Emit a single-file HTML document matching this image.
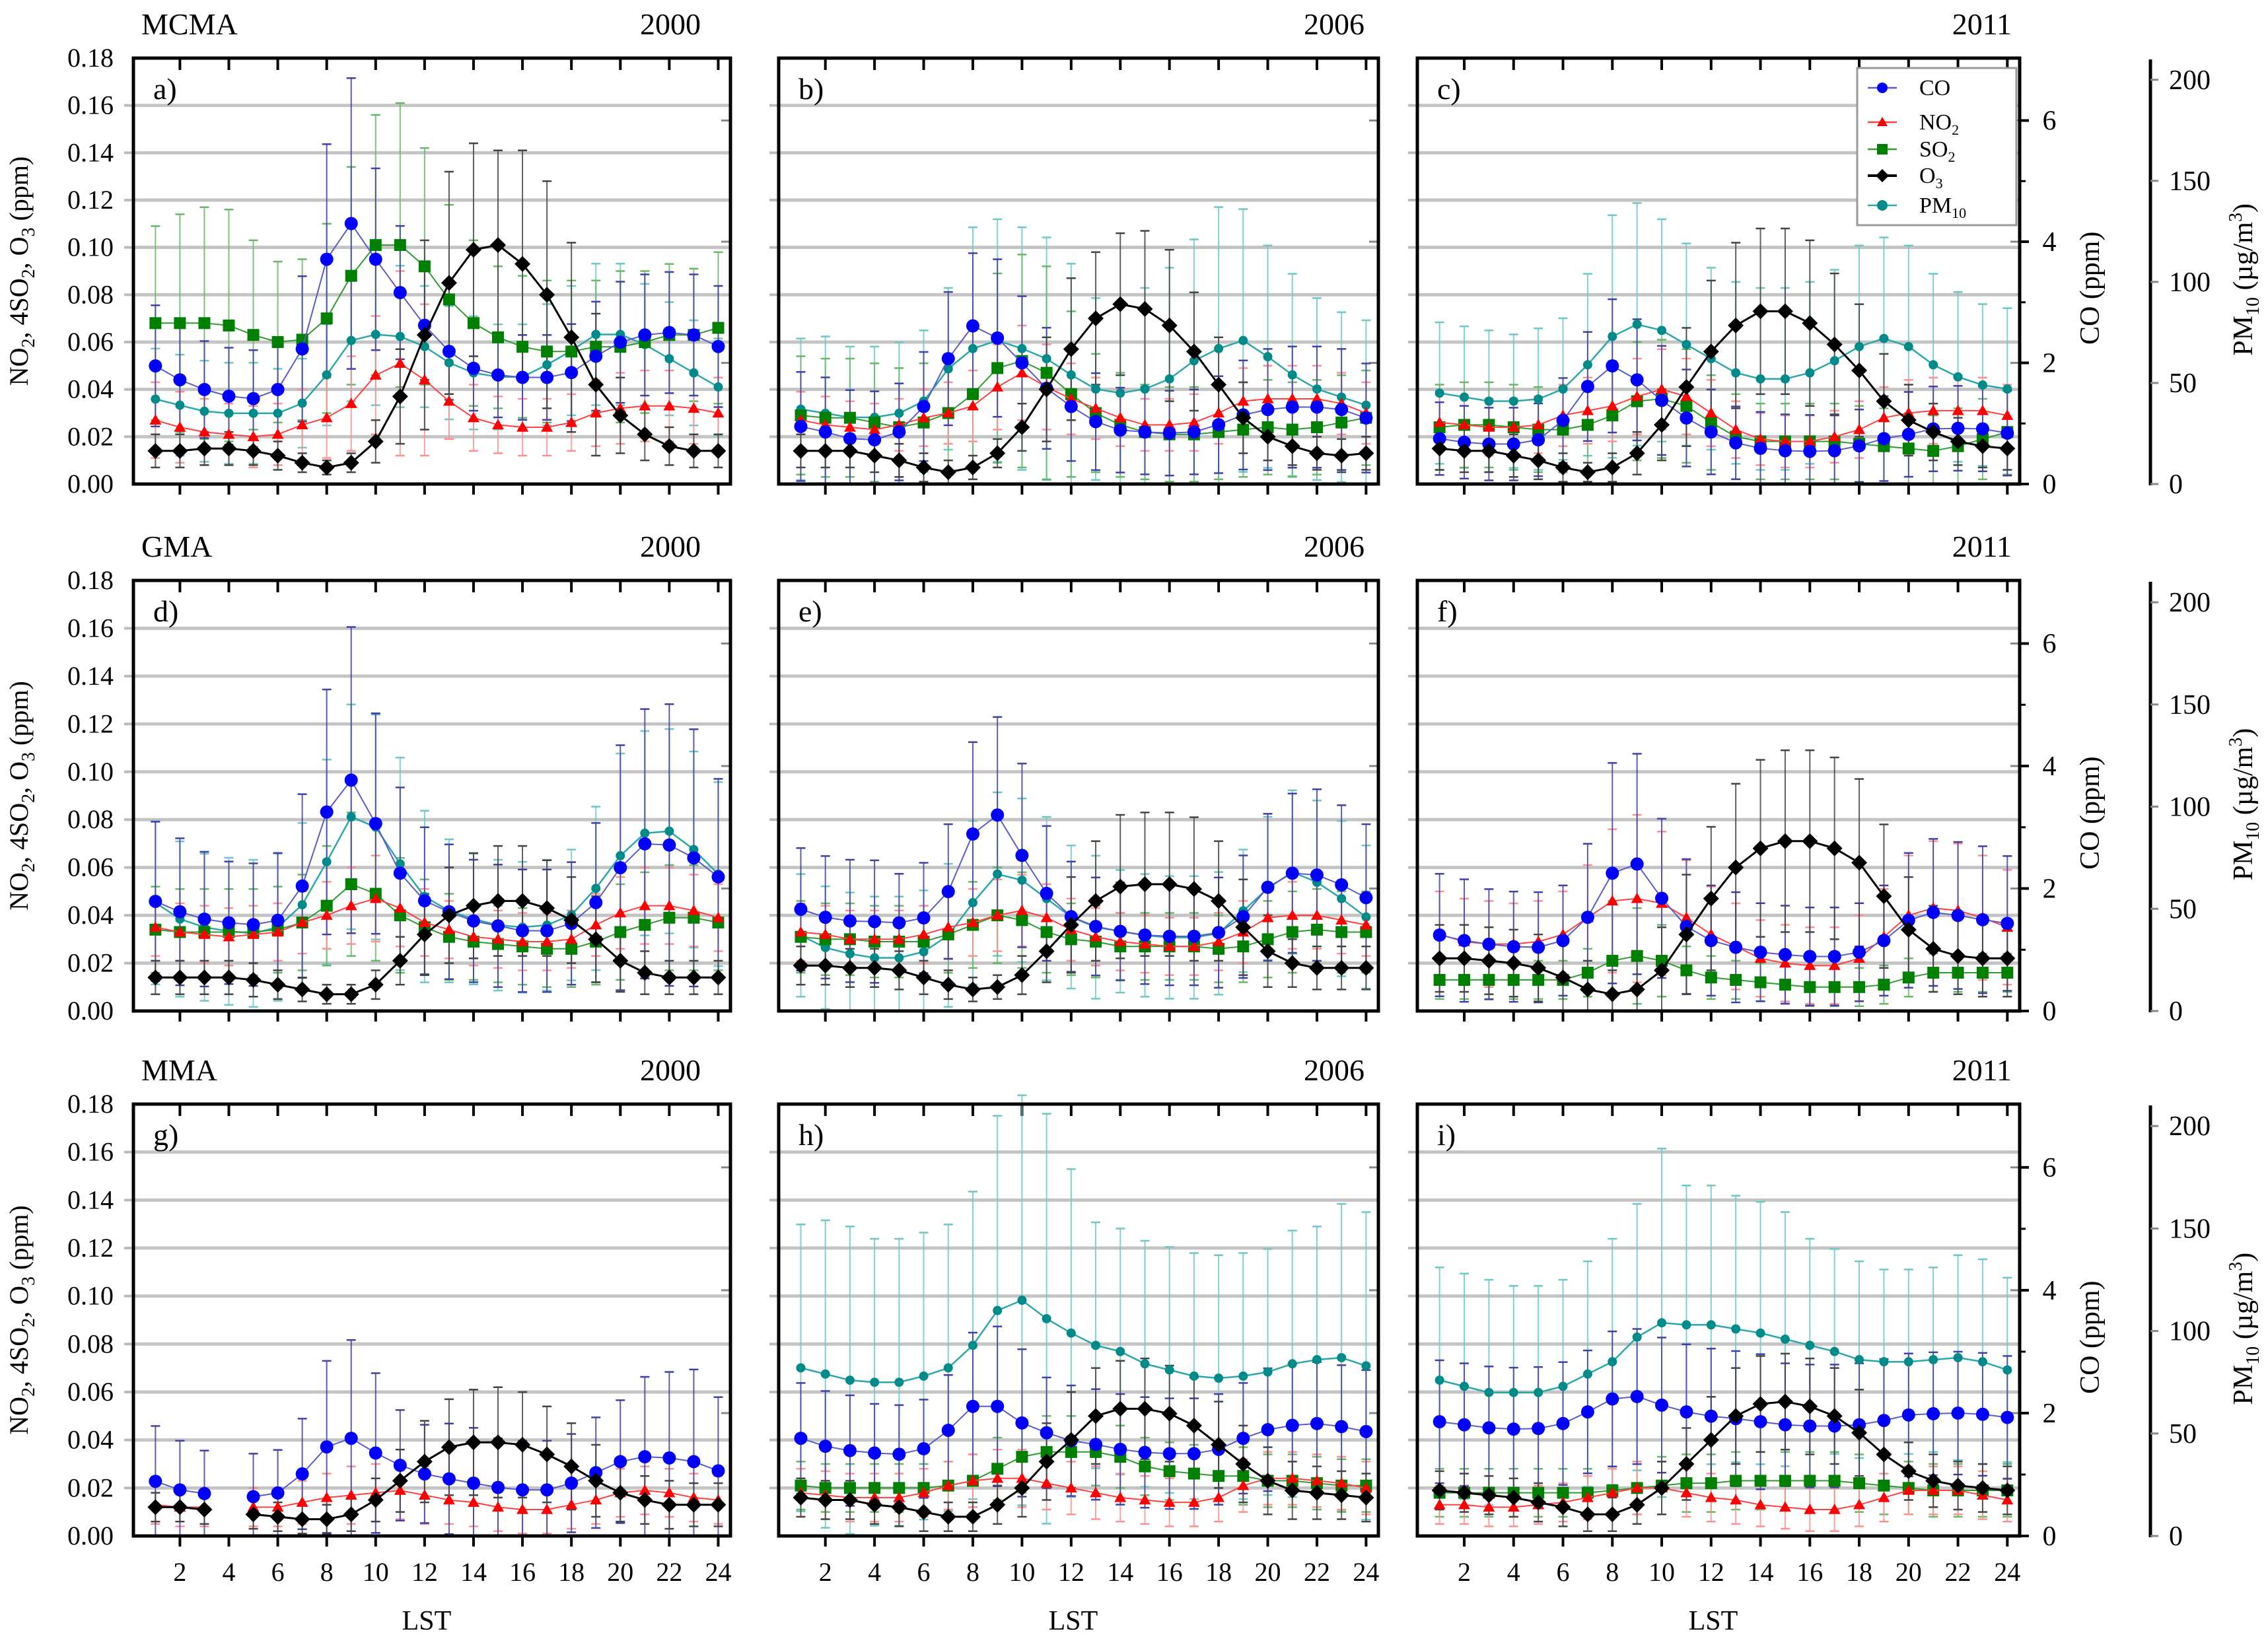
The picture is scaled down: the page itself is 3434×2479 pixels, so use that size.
<!DOCTYPE html>
<html><head><meta charset="utf-8"><title>Diurnal pollutant profiles</title>
<style>
html,body{margin:0;padding:0;background:#fff;}
svg{display:block;}
</style></head>
<body>
<svg id="chart" xmlns="http://www.w3.org/2000/svg" width="3434" height="2479" viewBox="0 0 3434 2479" font-family="'Liberation Serif', 'DejaVu Serif', serif"></svg>
<script>
// ---------- data (hours 1..24) ----------
const hours=[1,2,3,4,5,6,7,8,9,10,11,12,13,14,15,16,17,18,19,20,21,22,23,24];
const xTickLabels=[2,4,6,8,10,12,14,16,18,20,22,24];
const leftTickLabels=["0.00","0.02","0.04","0.06","0.08","0.10","0.12","0.14","0.16","0.18"];
const leftTickValues=[0,0.02,0.04,0.06,0.08,0.10,0.12,0.14,0.16,0.18];
const coTickValues=[0,2,4,6];
const pmTickValues=[0,50,100,150,200];
const regionNames=["MCMA","GMA","MMA"];
const yearNames=["2000","2006","2011"];
const panelLetters=["a)","b)","c)","d)","e)","f)","g)","h)","i)"];

// panel a (MCMA 2000)
const coA=[1.95,1.72,1.56,1.45,1.41,1.56,2.23,3.71,4.30,3.71,3.16,2.62,2.19,1.91,1.80,1.76,1.76,1.84,2.11,2.34,2.46,2.50,2.46,2.27];
const no2A=[.027,.024,.022,.021,.020,.021,.025,.028,.034,.046,.051,.044,.035,.028,.025,.024,.024,.026,.030,.032,.033,.033,.032,.030];
const so2A=[.068,.068,.068,.067,.063,.060,.061,.070,.088,.101,.101,.092,.078,.068,.062,.058,.056,.056,.058,.058,.060,.063,.063,.066];
const o3A=[.014,.014,.015,.015,.014,.012,.009,.007,.009,.018,.037,.063,.085,.099,.101,.093,.080,.062,.042,.029,.021,.016,.014,.014];
const pmA=[42,39,36,35,35,35,40,54,71,74,73,68,60,55,53,53,59,66,74,74,69,62,55,48];
const coErrA=[1.0,0.9,0.8,0.8,0.8,0.8,1.2,1.9,2.4,1.5,1.1,0.9,0.8,0.7,0.7,0.7,0.7,0.8,0.9,1.0,1.0,1.0,1.0,1.0];
const no2ErrA=[.016,.015,.014,.013,.013,.013,.015,.017,.020,.025,.039,.032,.016,.014,.012,.012,.012,.012,.014,.015,.015,.015,.015,.015];
const so2ErrA=[.041,.046,.049,.049,.040,.034,.034,.040,.046,.055,.060,.050,.040,.035,.030,.030,.030,.030,.028,.032,.030,.030,.028,.032];
const o3ErrA=[.007,.007,.007,.007,.006,.006,.004,.003,.004,.009,.020,.040,.047,.045,.040,.048,.048,.040,.030,.016,.011,.008,.007,.007];
const pmErrA=[25,25,25,25,25,22,22,25,30,35,35,30,28,28,26,26,30,32,35,35,30,28,26,24];

// panel b (MCMA 2006)
const coB=[0.95,0.86,0.75,0.73,0.86,1.28,2.07,2.61,2.41,2.00,1.58,1.28,1.03,0.89,0.86,0.84,0.86,0.98,1.14,1.23,1.27,1.27,1.23,1.09];
const no2B=[.027,.025,.024,.023,.025,.028,.030,.033,.041,.047,.041,.036,.032,.028,.025,.025,.026,.030,.035,.036,.036,.036,.034,.030];
const so2B=[.029,.028,.028,.026,.024,.026,.030,.038,.049,.052,.047,.038,.030,.025,.022,.021,.021,.022,.023,.024,.023,.024,.026,.028];
const o3B=[.014,.014,.014,.012,.010,.007,.005,.007,.013,.024,.040,.057,.070,.076,.074,.067,.056,.042,.028,.020,.016,.013,.012,.013];
const pmB=[37,35,33,33,35,41,57,67,71,67,62,54,47,45,47,52,61,67,71,63,54,47,43,39];
const coErrB=[0.9,0.9,0.8,0.8,0.8,0.9,1.1,1.2,1.3,1.1,1.0,0.9,0.8,0.7,0.7,0.7,0.7,0.8,0.9,1.0,1.0,1.0,1.0,0.9];
const no2ErrB=[.012,.012,.011,.011,.011,.012,.013,.015,.018,.020,.018,.015,.013,.012,.011,.011,.012,.013,.014,.014,.014,.014,.013,.013];
const so2ErrB=[.025,.025,.025,.025,.025,.025,.025,.030,.040,.045,.045,.035,.025,.022,.020,.020,.020,.020,.020,.020,.020,.020,.020,.020];
const o3ErrB=[.007,.007,.007,.007,.007,.006,.005,.005,.006,.010,.022,.030,.028,.030,.033,.032,.025,.020,.015,.010,.008,.007,.007,.007];
const pmErrB=[35,38,35,35,35,35,40,60,60,60,60,55,45,45,50,55,60,70,65,55,50,45,42,42];

// panel c (MCMA 2011)
const coC=[0.75,0.69,0.66,0.66,0.73,1.05,1.61,1.95,1.72,1.38,1.09,0.86,0.68,0.59,0.55,0.54,0.55,0.63,0.75,0.82,0.91,0.92,0.91,0.84];
const no2C=[.026,.025,.024,.024,.025,.029,.031,.033,.037,.040,.037,.030,.023,.019,.018,.018,.020,.023,.028,.030,.031,.031,.031,.029];
const so2C=[.024,.025,.025,.024,.023,.023,.025,.029,.035,.036,.033,.026,.020,.018,.018,.018,.018,.017,.016,.015,.014,.016,.019,.022];
const o3C=[.015,.014,.014,.012,.010,.007,.005,.007,.013,.025,.041,.056,.067,.073,.073,.068,.059,.048,.035,.027,.022,.018,.016,.015];
const pmC=[45,43,41,41,42,47,59,73,79,76,69,62,55,52,52,55,61,68,72,68,59,53,49,47];
const coErrC=[0.6,0.6,0.6,0.6,0.6,0.7,0.9,1.1,1.0,0.9,0.8,0.7,0.6,0.6,0.6,0.6,0.6,0.6,0.7,0.7,0.7,0.7,0.7,0.7];
const no2ErrC=[.012,.012,.012,.012,.012,.013,.014,.015,.016,.017,.016,.014,.012,.011,.011,.011,.011,.012,.013,.014,.014,.014,.014,.013];
const so2ErrC=[.018,.018,.018,.018,.018,.018,.020,.023,.025,.025,.024,.020,.018,.016,.016,.016,.016,.016,.016,.015,.015,.016,.017,.018];
const o3ErrC=[.009,.009,.009,.009,.008,.006,.004,.006,.009,.015,.025,.030,.035,.035,.035,.035,.030,.028,.020,.015,.012,.010,.009,.009];
const pmErrC=[35,35,35,33,35,35,45,60,60,55,50,45,45,45,45,45,45,50,50,50,45,42,40,40];

// panel d (GMA 2000)
const coD=[1.79,1.62,1.50,1.44,1.41,1.48,2.04,3.25,3.77,3.06,2.25,1.80,1.62,1.47,1.39,1.31,1.31,1.43,1.77,2.34,2.73,2.71,2.50,2.19];
const no2D=[.035,.033,.032,.031,.032,.033,.037,.040,.044,.047,.043,.037,.034,.031,.030,.029,.029,.030,.036,.041,.044,.044,.042,.039];
const so2D=[.034,.033,.033,.033,.033,.034,.037,.044,.053,.049,.040,.035,.031,.029,.028,.027,.026,.026,.029,.033,.036,.039,.039,.037];
const o3D=[.014,.014,.014,.014,.013,.011,.009,.007,.007,.011,.021,.032,.040,.044,.046,.046,.043,.038,.030,.021,.016,.014,.014,.014];
const pmD=[53,45,41,39,38,41,52,73,95,90,72,56,49,45,42,41,42,47,60,76,87,88,79,67];
const coErrD=[1.3,1.2,1.1,1.0,1.0,1.1,1.5,2.0,2.5,1.8,1.4,1.2,1.1,1.0,1.0,1.0,1.0,1.0,1.3,2.0,2.2,2.3,2.1,1.6];
const no2ErrD=[.012,.012,.012,.012,.012,.012,.013,.014,.016,.018,.016,.014,.012,.012,.012,.012,.012,.012,.013,.015,.016,.016,.015,.014];
const so2ErrD=[.018,.018,.018,.018,.018,.018,.020,.025,.030,.028,.024,.020,.018,.016,.016,.016,.016,.016,.018,.020,.022,.022,.022,.020];
const o3ErrD=[.007,.007,.007,.007,.007,.006,.005,.004,.004,.006,.010,.017,.020,.022,.023,.023,.020,.018,.018,.013,.009,.007,.007,.007];
const pmErrD=[40,38,36,36,36,36,40,50,55,55,52,42,35,32,32,32,32,32,40,50,50,50,48,45];

// panel e (GMA 2006)
const coE=[1.66,1.53,1.47,1.46,1.44,1.52,1.95,2.89,3.20,2.54,1.92,1.54,1.38,1.30,1.24,1.22,1.22,1.28,1.54,2.02,2.25,2.22,2.06,1.85];
const no2E=[.033,.032,.030,.030,.030,.032,.035,.037,.040,.042,.039,.034,.031,.029,.028,.027,.027,.029,.033,.039,.040,.040,.038,.036];
const so2E=[.031,.030,.030,.029,.029,.029,.032,.036,.040,.038,.033,.030,.029,.027,.027,.027,.027,.026,.027,.030,.033,.034,.033,.033];
const o3E=[.019,.019,.018,.018,.017,.014,.011,.009,.010,.015,.025,.036,.046,.052,.053,.053,.051,.046,.035,.025,.020,.018,.018,.018];
const pmE=[37,31,28,26,26,29,37,53,67,64,55,46,41,39,37,36,36,38,49,60,68,63,55,46];
const coErrE=[1.0,1.0,1.0,1.0,0.8,0.9,1.1,1.5,1.6,1.5,1.1,0.9,0.8,0.8,0.8,0.8,0.8,0.9,1.0,1.2,1.3,1.4,1.3,1.2];
const no2ErrE=[.012,.012,.012,.012,.012,.012,.013,.014,.015,.015,.014,.013,.012,.012,.012,.012,.012,.012,.013,.014,.014,.014,.014,.013];
const so2ErrE=[.015,.015,.015,.015,.015,.015,.016,.018,.020,.020,.017,.015,.015,.014,.014,.014,.014,.014,.015,.016,.017,.017,.017,.017];
const o3ErrE=[.008,.008,.008,.008,.008,.007,.006,.005,.005,.008,.013,.020,.025,.030,.030,.030,.030,.025,.020,.015,.010,.009,.009,.009];
const pmErrE=[30,30,30,30,30,30,35,40,40,40,40,35,35,30,30,30,30,30,30,35,40,40,38,35];

// panel f (GMA 2011) - no PM10
const coF=[1.24,1.15,1.09,1.05,1.04,1.15,1.53,2.25,2.40,1.84,1.38,1.15,1.04,0.96,0.92,0.89,0.89,0.96,1.15,1.48,1.61,1.56,1.49,1.43];
const no2F=[.032,.029,.028,.028,.029,.032,.039,.046,.047,.045,.039,.032,.027,.022,.020,.019,.019,.022,.031,.040,.043,.042,.039,.035];
const so2F=[.013,.013,.013,.013,.013,.013,.016,.021,.023,.021,.017,.014,.013,.012,.011,.010,.010,.010,.011,.014,.016,.016,.016,.016];
const o3F=[.022,.022,.021,.020,.018,.014,.009,.007,.009,.017,.032,.047,.060,.068,.071,.071,.068,.062,.048,.034,.026,.023,.022,.022];
const coErrF=[1.0,1.0,0.9,0.9,0.9,0.9,1.2,1.8,1.8,1.3,1.1,0.9,0.9,0.8,0.8,0.8,0.8,0.8,0.9,1.1,1.2,1.2,1.2,1.1];
const no2ErrF=[.018,.018,.018,.017,.017,.018,.022,.030,.035,.030,.024,.020,.018,.016,.016,.016,.016,.018,.020,.025,.028,.028,.026,.024];
const so2ErrF=[.008,.008,.008,.008,.008,.008,.010,.025,.020,.015,.010,.009,.008,.008,.008,.008,.008,.008,.008,.008,.008,.008,.008,.008];
const o3ErrF=[.014,.014,.014,.014,.014,.014,.012,.010,.012,.018,.025,.030,.035,.037,.038,.038,.038,.035,.030,.022,.018,.016,.016,.016];

// panel g (MMA 2000) - no SO2, no PM10, hour 4 missing
const coG=[0.89,0.75,0.69,null,0.64,0.70,1.01,1.45,1.59,1.35,1.15,1.01,0.93,0.86,0.79,0.75,0.75,0.86,1.03,1.21,1.29,1.27,1.21,1.06];
const no2G=[.013,.012,.012,null,.012,.012,.014,.016,.017,.018,.019,.017,.015,.014,.012,.011,.011,.013,.015,.018,.019,.018,.016,.015];
const o3G=[.012,.012,.011,null,.009,.008,.007,.007,.009,.015,.023,.031,.037,.039,.039,.038,.034,.029,.023,.018,.015,.013,.013,.013];
const coErrG=[0.9,0.8,0.7,null,0.7,0.7,0.9,1.4,1.6,1.3,0.9,0.8,0.9,0.9,0.8,0.8,0.8,0.8,0.9,1.0,1.3,1.4,1.5,1.2];
const no2ErrG=[.008,.008,.008,null,.008,.008,.009,.010,.012,.012,.012,.012,.010,.010,.010,.010,.010,.010,.010,.010,.010,.010,.010,.010];
const o3ErrG=[.006,.006,.006,null,.006,.006,.006,.006,.007,.009,.013,.017,.020,.022,.023,.022,.020,.018,.015,.012,.010,.010,.009,.009];

// panel h (MMA 2006)
const coH=[1.59,1.46,1.39,1.35,1.33,1.42,1.72,2.11,2.11,1.84,1.68,1.55,1.49,1.41,1.36,1.34,1.34,1.41,1.59,1.73,1.80,1.83,1.78,1.70];
const no2H=[.018,.017,.016,.016,.016,.018,.021,.023,.024,.024,.022,.020,.018,.016,.015,.014,.014,.016,.021,.024,.024,.023,.022,.020];
const so2H=[.021,.020,.020,.020,.020,.020,.021,.023,.028,.033,.035,.035,.035,.033,.029,.027,.026,.025,.025,.023,.023,.022,.021,.021];
const o3H=[.016,.015,.015,.013,.012,.010,.008,.008,.013,.020,.031,.040,.050,.053,.053,.051,.046,.038,.030,.023,.019,.018,.017,.016];
const pmH=[82,79,76,75,75,78,82,93,110,115,106,99,93,90,84,81,78,77,78,80,84,86,87,83];
const coErrH=[0.9,0.9,0.9,0.8,0.8,0.8,0.9,1.2,1.3,1.2,0.9,0.9,0.9,0.9,0.9,0.9,0.9,0.9,0.9,1.0,1.0,1.0,1.0,1.0];
const no2ErrH=[.010,.010,.010,.010,.010,.010,.010,.011,.012,.012,.011,.011,.011,.010,.010,.010,.010,.010,.011,.011,.011,.011,.011,.011];
const so2ErrH=[.010,.010,.010,.010,.010,.010,.010,.011,.013,.015,.015,.015,.014,.013,.012,.012,.012,.012,.012,.011,.011,.011,.011,.011];
const o3ErrH=[.008,.008,.008,.008,.008,.008,.006,.006,.008,.012,.016,.020,.020,.020,.021,.020,.020,.018,.016,.014,.012,.011,.010,.010];
const pmErrH=[70,75,75,70,70,70,70,75,95,100,100,80,60,60,60,60,60,60,60,60,65,65,75,75];

// panel i (MMA 2011)
const coI=[1.86,1.81,1.76,1.74,1.75,1.83,2.02,2.23,2.27,2.13,2.02,1.95,1.91,1.86,1.81,1.79,1.79,1.81,1.88,1.97,1.99,2.00,1.98,1.93];
const no2I=[.013,.013,.012,.012,.013,.014,.016,.018,.020,.020,.018,.016,.015,.013,.012,.011,.011,.013,.016,.019,.019,.019,.017,.015];
const so2I=[.018,.018,.018,.018,.018,.018,.018,.019,.020,.021,.022,.022,.023,.023,.023,.023,.023,.022,.021,.020,.019,.019,.019,.019];
const o3I=[.019,.018,.017,.016,.014,.012,.009,.009,.013,.020,.030,.040,.050,.055,.056,.054,.050,.043,.034,.027,.023,.021,.020,.019];
const pmI=[76,73,70,70,70,73,79,85,97,104,103,103,101,99,96,93,90,86,85,85,86,87,85,81];
const coErrI=[1.0,1.0,1.0,1.0,1.0,1.0,1.0,1.1,1.1,1.1,1.1,1.1,1.1,1.1,1.0,1.0,1.0,1.0,1.0,1.0,1.0,1.0,1.0,1.0];
const no2ErrI=[.008,.008,.008,.008,.008,.008,.009,.010,.011,.011,.010,.010,.010,.009,.009,.009,.009,.009,.010,.010,.010,.010,.010,.009];
const so2ErrI=[.010,.010,.010,.010,.010,.010,.010,.010,.011,.012,.012,.012,.012,.012,.012,.012,.012,.012,.012,.011,.011,.011,.011,.011];
const o3ErrI=[.008,.008,.008,.008,.008,.008,.007,.007,.008,.011,.015,.018,.020,.020,.020,.020,.020,.018,.015,.012,.011,.010,.010,.010];
const pmErrI=[55,55,55,52,52,52,55,60,65,85,68,68,65,64,62,52,50,48,45,45,45,50,50,45];

// ---------- layout ----------
const NS="http://www.w3.org/2000/svg";
const svg=document.getElementById("chart");
const colX=[[202,1106],[1179,2087],[2146,3058]];
const rowY=[[88,733],[879,1531],[1672,2326]];
const LMAX=0.18, COMAX=7.03, PMMAX=210.7, XMIN=0.1, XMAX=24.5;

function el(tag,attrs,parent){const e=document.createElementNS(NS,tag);for(const k in attrs)e.setAttribute(k,attrs[k]);(parent||svg).appendChild(e);return e;}

const panels=[
 {co:coA,no2:no2A,so2:so2A,o3:o3A,pm:pmA,coE:coErrA,no2E:no2ErrA,so2E:so2ErrA,o3E:o3ErrA,pmE:pmErrA},
 {co:coB,no2:no2B,so2:so2B,o3:o3B,pm:pmB,coE:coErrB,no2E:no2ErrB,so2E:so2ErrB,o3E:o3ErrB,pmE:pmErrB},
 {co:coC,no2:no2C,so2:so2C,o3:o3C,pm:pmC,coE:coErrC,no2E:no2ErrC,so2E:so2ErrC,o3E:o3ErrC,pmE:pmErrC},
 {co:coD,no2:no2D,so2:so2D,o3:o3D,pm:pmD,coE:coErrD,no2E:no2ErrD,so2E:so2ErrD,o3E:o3ErrD,pmE:pmErrD},
 {co:coE,no2:no2E,so2:so2E,o3:o3E,pm:pmE,coE:coErrE,no2E:no2ErrE,so2E:so2ErrE,o3E:o3ErrE,pmE:pmErrE},
 {co:coF,no2:no2F,so2:so2F,o3:o3F,pm:null,coE:coErrF,no2E:no2ErrF,so2E:so2ErrF,o3E:o3ErrF,pmE:null},
 {co:coG,no2:no2G,so2:null,o3:o3G,pm:null,coE:coErrG,no2E:no2ErrG,so2E:null,o3E:o3ErrG,pmE:null},
 {co:coH,no2:no2H,so2:so2H,o3:o3H,pm:pmH,coE:coErrH,no2E:no2ErrH,so2E:so2ErrH,o3E:o3ErrH,pmE:pmErrH},
 {co:coI,no2:no2I,so2:so2I,o3:o3I,pm:pmI,coE:coErrI,no2E:no2ErrI,so2E:so2ErrI,o3E:o3ErrI,pmE:pmErrI}
];

const seriesStyle={
 pm:{line:"#2aa8a8",err:"#6cc8c8",fill:"#008b8b",shape:"circle",size:7,lw:2.5,name:"pm10"},
 so2:{line:"#2f9a2f",err:"#66b866",fill:"#008000",shape:"square",size:9,lw:2,name:"so2"},
 no2:{line:"#ff4040",err:"#ff9090",fill:"#ff0000",shape:"triangle",size:9,lw:2,name:"no2"},
 co:{line:"#5a5ac8",err:"#4040a8",fill:"#0000ff",shape:"circle",size:10,lw:2,name:"co"},
 o3:{line:"#000000",err:"#444444",fill:"#000000",shape:"diamond",size:12,lw:3,name:"o3"}
};

function marker(g,shape,x,y,s,fill,name){
  let m;
  if(shape==="circle") m=el("circle",{cx:x,cy:y,r:s,fill:fill},g);
  else if(shape==="square") m=el("rect",{x:x-s,y:y-s,width:2*s,height:2*s,fill:fill},g);
  else if(shape==="triangle") m=el("polygon",{points:`${x},${y-s} ${x-s},${y+s*0.75} ${x+s},${y+s*0.75}`,fill:fill},g);
  else m=el("polygon",{points:`${x},${y-s} ${x+s},${y} ${x},${y+s} ${x-s},${y}`,fill:fill},g);
  
  
  return m;
}

panels.forEach((p,idx)=>{
  const r=Math.floor(idx/3), c=idx%3;
  const x0=colX[c][0], x1=colX[c][1], y0=rowY[r][0], y1=rowY[r][1];
  const W=x1-x0, H=y1-y0;
  const xs=h=>x0+(h-XMIN)/(XMAX-XMIN)*W;
  const yL=v=>y1-v/LMAX*H;
  const yCO=v=>y1-v/COMAX*H;
  const yPM=v=>y1-v/PMMAX*H;
  const g=el("g",{});
  
  
  leftTickValues.forEach(v=>{
    if(v===0||v===LMAX) return;
    const gl=el("line",{x1:x0,x2:x1,y1:yL(v),y2:yL(v),stroke:"#c4c4c4","stroke-width":5},g);
    
    
    el("line",{x1:x0-14,x2:x0,y1:yL(v),y2:yL(v),stroke:"#bbbbbb","stroke-width":4},g);
  });
  coTickValues.forEach(v=>{ if(v>0) el("line",{x1:x1-14,x2:x1,y1:yCO(v),y2:yCO(v),stroke:"#888","stroke-width":3},g);});
  xTickLabels.forEach(h=>{
    el("line",{x1:xs(h),x2:xs(h),y1:y0,y2:y0+18,stroke:"#000","stroke-width":4},g);
    el("line",{x1:xs(h),x2:xs(h),y1:y1,y2:y1+16,stroke:"#000","stroke-width":4},g);
  });
  const ser=[
    {k:"pm",v:p.pm,e:p.pmE,ys:yPM},
    {k:"so2",v:p.so2,e:p.so2E,ys:yL},
    {k:"no2",v:p.no2,e:p.no2E,ys:yL},
    {k:"co",v:p.co,e:p.coE,ys:yCO},
    {k:"o3",v:p.o3,e:p.o3E,ys:yL}
  ].filter(s=>s.v);
  ser.forEach(s=>{
    const st=seriesStyle[s.k];
    const eg=el("g",{},g);
    
    
    hours.forEach((h,i)=>{
      const v=s.v[i], e=s.e[i];
      if(v==null||e==null) return;
      const x=xs(h), ya=s.ys(v+e), yb=s.ys(Math.max(v-e,0));
      el("line",{x1:x,x2:x,y1:ya,y2:yb,stroke:st.err,"stroke-width":2,opacity:0.85},eg);
      el("line",{x1:x-7,x2:x+7,y1:ya,y2:ya,stroke:st.err,"stroke-width":2.5},eg);
      el("line",{x1:x-7,x2:x+7,y1:yb,y2:yb,stroke:st.err,"stroke-width":2.5},eg);
    });
  });
  ser.forEach(s=>{
    const st=seriesStyle[s.k];
    let d="", pen=false;
    hours.forEach((h,i)=>{
      const v=s.v[i];
      if(v==null){pen=false;return;}
      d+=(pen?"L":"M")+xs(h).toFixed(1)+","+s.ys(v).toFixed(1);
      pen=true;
    });
    const ln=el("path",{d:d,fill:"none",stroke:st.line,"stroke-width":st.lw},g);
    
    
    hours.forEach((h,i)=>{
      const v=s.v[i]; if(v==null) return;
      marker(g,st.shape,xs(h),s.ys(v),st.size,st.fill,st.name);
    });
  });
  const fr=el("rect",{x:x0,y:y0,width:W,height:H,fill:"none",stroke:"#000","stroke-width":5},g);
  
  
  const pl=el("text",{x:x0+30,y:y0+62,"font-size":46,fill:"#000"},g);
  pl.textContent=panelLetters[idx];
  
  
  const yt=el("text",{x:[1061,2066,3046][c],y:y0-36,"font-size":46,"text-anchor":"end"});
  yt.textContent=yearNames[c];
  
  
  if(c===0){
    const rt=el("text",{x:214,y:y0-36,"font-size":46});
    rt.textContent=regionNames[r];
    
    
    leftTickValues.forEach((v,i)=>{
      const t=el("text",{x:172,y:yL(v)+13,"font-size":40,"text-anchor":"end"});
      t.textContent=leftTickLabels[i];
      
      
    });
    const yt2=el("text",{transform:`translate(42,${(y0+y1)/2}) rotate(-90)`,"font-size":40,"text-anchor":"middle"});
    
    
    yt2.innerHTML='NO<tspan font-size="28" dy="10">2</tspan><tspan dy="-10">, 4SO</tspan><tspan font-size="28" dy="10">2</tspan><tspan dy="-10">, O</tspan><tspan font-size="28" dy="10">3</tspan><tspan dy="-10"> (ppm)</tspan>';
  }
  if(c===2){
    coTickValues.forEach(v=>{
      el("line",{x1:x1,x2:x1+14,y1:yCO(v),y2:yCO(v),stroke:"#000","stroke-width":4});
      const t=el("text",{x:x1+45,y:yCO(v)+14,"font-size":42,"text-anchor":"middle"});
      t.textContent=String(v);
      
      
    });
    [1,3,5].forEach(v=>el("line",{x1:x1,x2:x1+9,y1:yCO(v),y2:yCO(v),stroke:"#000","stroke-width":3}));
    const ct=el("text",{transform:`translate(3178,${y0+(y1-y0)*0.54}) rotate(-90)`,"font-size":42,"text-anchor":"middle"});
    ct.textContent="CO (ppm)";
    
    
    const pa=el("line",{x1:3256,x2:3256,y1:y0+2,y2:y1+2,stroke:"#000","stroke-width":5});
    
    
    pmTickValues.forEach(v=>{
      el("line",{x1:3256,x2:3268,y1:yPM(v),y2:yPM(v),stroke:"#888","stroke-width":3});
      const t=el("text",{x:3284,y:yPM(v)+14,"font-size":42});
      t.textContent=String(v);
      
      
    });
    const pt=el("text",{transform:`translate(3410,${y0+(y1-y0)*0.52}) rotate(-90)`,"font-size":42,"text-anchor":"middle"});
    
    
    pt.innerHTML='PM<tspan font-size="28" dy="10">10</tspan><tspan dy="-10"> (µg/m</tspan><tspan font-size="28" dy="-16">3</tspan><tspan dy="16">)</tspan>';
  }
  if(r===2){
    xTickLabels.forEach(h=>{
      const t=el("text",{x:xs(h),y:2394,"font-size":40,"text-anchor":"middle"});
      t.textContent=String(h);
      
      
    });
    const lt=el("text",{x:(x0+x1)/2-8,y:2468,"font-size":42,"text-anchor":"middle"});
    lt.textContent="LST";
    
    
  }
});

const lg=el("g",{});


const lb=el("rect",{x:2812,y:103,width:241,height:238,fill:"#fff",stroke:"#999","stroke-width":3},lg);


const legendKeys=["co","no2","so2","o3","pm"];
const legendLabels=['CO','NO<tspan font-size="22" dy="8">2</tspan>','SO<tspan font-size="22" dy="8">2</tspan>','O<tspan font-size="22" dy="8">3</tspan>','PM<tspan font-size="22" dy="8">10</tspan>'];
const legendY=[133,185,226,266,311];
legendKeys.forEach((k,i)=>{
  const st=seriesStyle[k];
  const eg=el("g",{},lg);
  
  
  el("line",{x1:2828,x2:2872,y1:legendY[i],y2:legendY[i],stroke:st.line,"stroke-width":k==="o3"?4:2.5},eg);
  marker(eg,st.shape,2850,legendY[i],k==="o3"?10:8,st.fill,'legend-'+st.name);
  const t=el("text",{x:2906,y:legendY[i]+11,"font-size":34},eg);
  t.innerHTML=legendLabels[i];
});
</script>
</body></html>
